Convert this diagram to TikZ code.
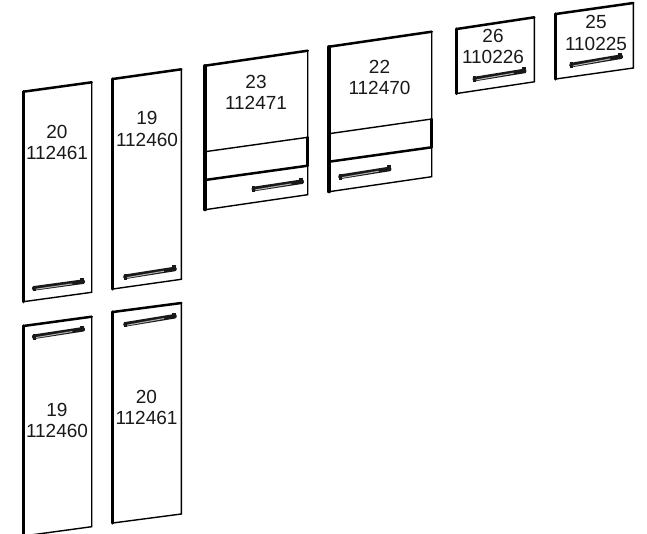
\documentclass[tikz,border=0pt]{standalone}
\usepackage{fontspec}
\setmainfont{Liberation Sans}
\tikzset{
    label/.style={align=center, font=\fontsize{19}{21.7}\selectfont, text=black!90, inner sep=0pt},
    edgethick/.style={line width=3.2pt, line cap=round},
    edgetop/.style={line width=2.5pt, line cap=round},
    edgethin/.style={line width=1.4pt, line cap=round},
}
\begin{document}
\begin{tikzpicture}[x=1pt, y=-1pt]
    \useasboundingbox (0,0) rectangle (647,533);
    \clip (0,0) rectangle (647,533);
    % doors
    \foreach \xa/\ya/\xb/\yb/\h in {23.3/91.7/91.7/82.3/210, 112.7/79/181.3/69.3/210,
        23.3/326/91.7/316.7/210, 112.7/312/181.3/303/211,
        205/65.7/307.7/50.7/144, 329/46.7/431.7/31.7/145,
        456.7/29/534.3/17.3/64.5, 555.7/14/633.3/3/65} {
        \draw[edgethick] (\xa,\ya) -- (\xa,\ya+\h);
        \draw[edgetop] (\xa,\ya) -- (\xb,\yb);
        \draw[edgethin] (\xb,\yb) -- (\xb,\yb+\h) -- (\xa,\ya+\h);
    }
    % flap divisions
    \foreach \xa/\ya/\xb/\yb/\xc/\yc/\xd/\yd in {205/151.7/307.7/137.3/205/180/307.7/165.7,
        329/133.7/431.7/119/329/161.7/431.7/147.3} {
        \draw[edgethin] (\xa,\ya) -- (\xb,\yb);
        \draw[edgetop] (\xc,\yc) -- (\xd,\yd);
        \draw[edgetop] (\xb,\yb) -- (\xd,\yd);
    }
    % handles
    \foreach \xa/\ya/\xb/\yb in {32.7/288.3/84.3/281.7, 124/276.7/176/269,
        32.7/336.7/84.3/329.3, 124/324.3/176/316.3,
        252.3/189/303.3/181.7, 339/176.7/390.7/169,
        473.3/79/525.7/71, 570/65/622.3/56.7} {
        \draw[line width=4.6pt, line cap=round, black!90] (\xa+1.5,\ya) -- (\xb-1.5,\yb);
        \draw[line width=1pt, black!30] (\xa+3,\ya+0.9) -- (\xb-12,\yb+2.2);
        \fill[black!90] (\xa,\ya-2.6) rectangle (\xa+3,\ya+3);
        \fill[black!90] (\xb-4,\yb-3.6) rectangle (\xb,\yb+2);
    }
    \node[label] (door20a) at (57,142.5) {20\\112461};
    \node[label] (door19a) at (147,129) {19\\112460};
    \node[label] (door19b) at (57,420.5) {19\\112460};
    \node[label] (door20b) at (146.5,407.5) {20\\112461};
    \node[label] (door23) at (256,92.5) {23\\112471};
    \node[label] (door22) at (379.5,77.5) {22\\112470};
    \node[label] (door26) at (493,46.5) {26\\110226};
    \node[label] (door25) at (596,33) {25\\110225};
\end{tikzpicture}
\end{document}
